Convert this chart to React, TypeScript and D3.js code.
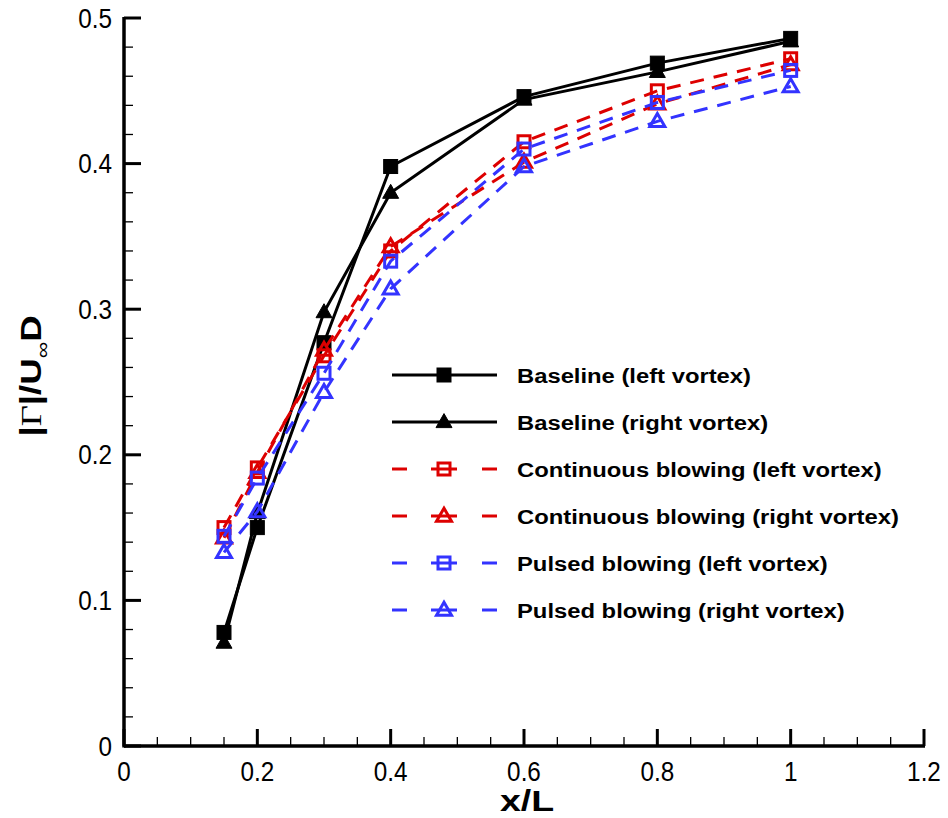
import React from "react";
import * as d3 from "d3";

const xValues = [0.15, 0.2, 0.3, 0.4, 0.6, 0.8, 1.0];
const baselineLeft = [0.078, 0.150, 0.277, 0.398, 0.446, 0.469, 0.486];
const baselineRight = [0.071, 0.160, 0.298, 0.380, 0.444, 0.463, 0.484];
const continuousLeft = [0.150, 0.191, 0.268, 0.340, 0.415, 0.450, 0.472];
const continuousRight = [0.143, 0.188, 0.272, 0.343, 0.401, 0.441, 0.468];
const pulsedLeft = [0.144, 0.184, 0.256, 0.333, 0.410, 0.442, 0.464];
const pulsedRight = [0.133, 0.161, 0.243, 0.314, 0.398, 0.429, 0.453];

const seriesNames = [
  "Baseline (left vortex)",
  "Baseline (right vortex)",
  "Continuous blowing (left vortex)",
  "Continuous blowing (right vortex)",
  "Pulsed blowing (left vortex)",
  "Pulsed blowing (right vortex)",
];
const xTicks = [0, 0.2, 0.4, 0.6, 0.8, 1, 1.2];
const yTicks = [0, 0.1, 0.2, 0.3, 0.4, 0.5];

const RED = "#dd0000";
const BLUE = "#3333ff";

const series = [
  { name: seriesNames[0], values: baselineLeft, color: "#000", dash: null, marker: "square", filled: true },
  { name: seriesNames[1], values: baselineRight, color: "#000", dash: null, marker: "triangle", filled: true },
  { name: seriesNames[2], values: continuousLeft, color: RED, dash: "14 10", marker: "square", filled: false },
  { name: seriesNames[3], values: continuousRight, color: RED, dash: "14 10", marker: "triangle", filled: false },
  { name: seriesNames[4], values: pulsedLeft, color: BLUE, dash: "14 10", marker: "square", filled: false },
  { name: seriesNames[5], values: pulsedRight, color: BLUE, dash: "14 10", marker: "triangle", filled: false },
];

const W = 948;
const H = 818;
const x0 = 124;
const x1 = 924;
const yTop = 18;
const yBot = 746;

const x = d3.scaleLinear().domain([0, 1.2]).range([x0, x1]);
const y = d3.scaleLinear().domain([0, 0.5]).range([yBot, yTop]);

function Marker({ cx, cy, type, color, filled }: any) {
  if (type === "square") {
    const s = filled ? 14 : 12;
    return (
      <rect
        x={cx - s / 2}
        y={cy - s / 2}
        width={s}
        height={s}
        fill={filled ? color : "none"}
        stroke={color}
        strokeWidth={filled ? 1 : 3}
      />
    );
  }
  const w = filled ? 16 : 15;
  const h = filled ? 14 : 13;
  const pts = `${cx},${cy - h * 0.6} ${cx - w / 2},${cy + h * 0.4} ${cx + w / 2},${cy + h * 0.4}`;
  return (
    <polygon
      points={pts}
      fill={filled ? color : "none"}
      stroke={color}
      strokeWidth={filled ? 1 : 3}
      strokeLinejoin="miter"
    />
  );
}

export default function App() {
  const line = d3
    .line<number>()
    .x((_, i) => x(xValues[i]))
    .y((d) => y(d));

  const xMinor = d3.range(0, 1.2001, 0.05).filter((v) => Math.abs(v / 0.2 - Math.round(v / 0.2)) > 1e-6);
  const yMinor = d3.range(0, 0.5001, 0.02).filter((v) => Math.abs(v / 0.1 - Math.round(v / 0.1)) > 1e-6);

  const legendX = 392;
  const legendX2 = 497;
  const legendTextX = 517;
  const legendY0 = 375;
  const legendDy = 47;

  return (
    <svg
      width={W}
      height={H}
      style={{ position: "absolute", left: 0, top: 0, background: "#fff" }}
      fontFamily="Liberation Sans, Arial, sans-serif"
    >
      <rect width={W} height={H} fill="#fff" />
      {/* minor ticks */}
      {xMinor.map((v, i) => (
        <line key={"xm" + i} x1={x(v)} x2={x(v)} y1={yBot} y2={yBot - 9} stroke="#000" strokeWidth={1.3} />
      ))}
      {yMinor.map((v, i) => (
        <line key={"ym" + i} x1={x0} x2={x0 + 9} y1={y(v)} y2={y(v)} stroke="#000" strokeWidth={1.3} />
      ))}
      {/* major ticks */}
      {xTicks.map((v, i) => (
        <line key={"xM" + i} x1={x(v)} x2={x(v)} y1={yBot} y2={yBot - 17} stroke="#000" strokeWidth={3} />
      ))}
      {yTicks.map((v, i) => (
        <line key={"yM" + i} x1={x0} x2={x0 + 17} y1={y(v)} y2={y(v)} stroke="#000" strokeWidth={3} />
      ))}
      {/* axes */}
      <line x1={x0} x2={x1 + 1} y1={yBot} y2={yBot} stroke="#000" strokeWidth={3.5} />
      <line x1={x0} x2={x0} y1={yTop - 1} y2={yBot + 1.5} stroke="#000" strokeWidth={3.5} />
      {/* tick labels */}
      {xTicks.map((v, i) => (
        <text
          key={"xl" + i}
          transform={`translate(${x(v)}, ${yBot + 35}) scale(0.9, 1)`}
          fontSize={27}
          textAnchor="middle"
          fill="#000"
        >
          {d3.format("~g")(v)}
        </text>
      ))}
      {yTicks.map((v, i) => (
        <text
          key={"yl" + i}
          transform={`translate(${x0 - 12}, ${y(v) + 9.5}) scale(0.9, 1)`}
          fontSize={27}
          textAnchor="end"
          fill="#000"
        >
          {d3.format("~g")(v)}
        </text>
      ))}
      {/* axis titles */}
      <text
        transform={`translate(527, 811) scale(1.25, 1)`}
        fontSize={30}
        fontWeight="bold"
        textAnchor="middle"
        fill="#000"
      >
        x/L
      </text>
      <text
        transform={`translate(41, 376) rotate(-90) scale(1.22, 1)`}
        fontSize={30}
        fontWeight="bold"
        textAnchor="middle"
        fill="#000"
      >
        |<tspan fontFamily="Liberation Serif, serif" fontWeight="normal">Γ</tspan>|/U
        <tspan fontSize={19} dy={8} fontWeight="normal">∞</tspan>
        <tspan dy={-8}>D</tspan>
      </text>
      {/* series */}
      {series.map((s, si) => (
        <g key={"s" + si}>
          <path
            d={line(s.values) || ""}
            fill="none"
            stroke={s.color}
            strokeWidth={3}
            strokeDasharray={s.dash || undefined}
          />
          {s.values.map((v, i) => (
            <Marker key={i} cx={x(xValues[i])} cy={y(v)} type={s.marker} color={s.color} filled={s.filled} />
          ))}
        </g>
      ))}
      {/* legend */}
      {series.map((s, si) => {
        const ly = legendY0 + si * legendDy;
        const mx = (legendX + legendX2) / 2 - 0.5;
        return (
          <g key={"lg" + si}>
            {s.dash ? (
              <>
                <line x1={legendX} x2={legendX + 15} y1={ly} y2={ly} stroke={s.color} strokeWidth={3} />
                <line x1={mx - 13} x2={mx + 13} y1={ly} y2={ly} stroke={s.color} strokeWidth={3} />
                <line x1={legendX2 - 15} x2={legendX2} y1={ly} y2={ly} stroke={s.color} strokeWidth={3} />
              </>
            ) : (
              <line x1={legendX} x2={legendX2} y1={ly} y2={ly} stroke={s.color} strokeWidth={3} />
            )}
            <Marker cx={mx} cy={ly} type={s.marker} color={s.color} filled={s.filled} />
            <text
              transform={`translate(${legendTextX}, ${ly + 7.5}) scale(1.19, 1)`}
              fontSize={20}
              fontWeight="bold"
              fill="#000"
            >
              {s.name}
            </text>
          </g>
        );
      })}
    </svg>
  );
}
